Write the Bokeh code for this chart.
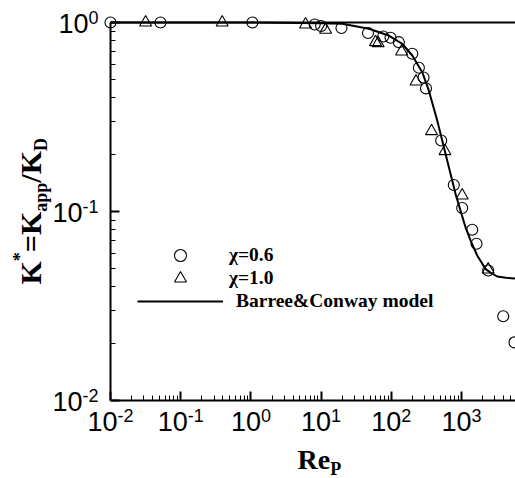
import math
from bokeh.plotting import figure
from bokeh.models import (Label, Legend, LegendItem, FixedTicker, Range1d, LogAxis,
                          CustomJSTickFormatter)
from bokeh.embed import file_html
from bokeh.resources import INLINE

# ---------------- data ----------------
re_chi06 = [0.01, 0.0515, 1.05, 8.1, 10.0, 19.5, 46.6, 76.7, 97.5, 128, 199, 247,
            288, 312, 514, 777, 1023, 1420, 1636, 2400, 3925, 5690]
k_chi06 = [1.0, 1.0, 1.0, 0.976, 0.958, 0.935, 0.88, 0.843, 0.83, 0.787, 0.683, 0.576,
           0.512, 0.448, 0.2375, 0.138, 0.1044, 0.080, 0.0675, 0.0487, 0.0279, 0.0203]

re_chi10 = [0.0316, 0.39, 6.0, 11.6, 59.6, 65, 140, 225, 374, 582, 1023, 2400]
k_chi10 = [1.0, 1.0, 0.976, 0.915, 0.787, 0.777, 0.702, 0.487, 0.266, 0.2085, 0.1215, 0.0493]

re_model = [0.01, 0.1, 1, 5, 10, 20, 47.9, 92, 143, 199, 276, 342, 451, 592, 822,
            1140, 1344, 1674, 2198, 2588, 3228, 4300, 5875]
k_model = [1.0, 1.0, 0.999, 0.995, 0.99, 0.984, 0.926, 0.853, 0.772, 0.669, 0.546, 0.437,
           0.303, 0.2019, 0.124, 0.0826, 0.0703, 0.0585, 0.0497, 0.0475, 0.0453, 0.0446, 0.0442]

x_major = [1e-2, 1e-1, 1e0, 1e1, 1e2, 1e3]
x_exps = ["-2", "-1", "0", "1", "2", "3"]
y_major = [1e-2, 1e-1, 1e0]
y_exps = ["-2", "-1", "0"]

legend_labels = ["χ=0.6", "χ=1.0", "Barree&Conway model"]

# ---------------- layout ----------------
W, H = 515, 478
AX_X, AX_TOP, AX_BOT = 110, 22, 400     # canvas pixels of the axes corner / top
PX_DEC_X = 70.2
PX_DEC_Y = 189.0
x_start = 10 ** (-2 - AX_X / PX_DEC_X)
x_end = 10 ** (-2 + (W - AX_X) / PX_DEC_X)
y_end = 10 ** (AX_TOP / PX_DEC_Y)
y_start = 10 ** (-2 - (H - AX_BOT) / PX_DEC_Y)

p = figure(width=W, height=H, x_axis_type="log", y_axis_type="log",
           x_range=Range1d(x_start, x_end), y_range=Range1d(y_start, y_end),
           output_backend="svg", toolbar_location=None,
           min_border_left=0, min_border_right=0, min_border_top=0, min_border_bottom=0)
p.outline_line_color = None
p.grid.visible = False
p.background_fill_color = "white"
p.border_fill_color = "white"

x_minor = [m * 10 ** e for e in range(-2, 4) for m in range(2, 10)]
y_minor = [m * 10 ** e for e in range(-2, 0) for m in range(2, 10)]

blank = CustomJSTickFormatter(code="return ''")


def style_axis(ax, major, minor):
    ax.ticker = FixedTicker(ticks=major, minor_ticks=minor)
    ax.formatter = blank
    ax.major_label_text_font_size = "0px"
    ax.major_label_standoff = 0
    ax.axis_line_width = 2
    ax.axis_line_color = "black"
    ax.major_tick_in = 9
    ax.major_tick_out = 0
    ax.minor_tick_in = 5
    ax.minor_tick_out = 0
    ax.major_tick_line_width = 2
    ax.minor_tick_line_width = 1
    ax.major_tick_line_color = "black"
    ax.minor_tick_line_color = "black"


style_axis(p.xaxis[0], x_major, x_minor)
style_axis(p.yaxis[0], y_major, y_minor)
p.xaxis[0].bounds = (0.01, x_end)
p.xaxis[0].fixed_location = 0.01
p.yaxis[0].bounds = (0.01, 1.0)
p.yaxis[0].fixed_location = 0.01

# top frame line at K* = 1 (an untitled, tick-less axis)
top = LogAxis(fixed_location=1.0, bounds=(0.01, x_end), formatter=blank,
              major_label_text_font_size="0px", major_label_standoff=0,
              major_tick_line_color=None, minor_tick_line_color=None,
              axis_line_width=2, axis_line_color="black")
p.add_layout(top, "above")

rm = p.line(re_model, k_model, line_color="black", line_width=2)
r06 = p.scatter(re_chi06, k_chi06, marker="circle", size=11, fill_color=None,
                line_color="black", line_width=1.1)
r10 = p.scatter(re_chi10, k_chi10, marker="triangle", size=12, fill_color=None,
                line_color="black", line_width=1.1)

# one single-entry legend per row so that the marker keys can be drawn larger
legend_rows = [(r06, 255, 6), (r10, 277.5, 6), (rm, 301, 13)]   # renderer, row centre, gap
for (rend, cy, gap), lab in zip(legend_rows, legend_labels):
    lg = Legend(items=[LegendItem(label=lab, renderers=[rend])],
                location=(137, H - cy - 15), orientation="vertical",
                glyph_width=86, glyph_height=30, label_height=30, spacing=0,
                padding=0, margin=0, label_standoff=gap,
                border_line_color=None, background_fill_alpha=0,
                label_text_font="Liberation Serif", label_text_font_style="bold",
                label_text_font_size="19.5px", label_text_color="black")
    p.add_layout(lg)

# ---------------- tick labels: 10 with superscript exponent ----------------
SANS = "Liberation Sans"
F_BIG, F_SUP = 27, 18
CW = {"0": .556, "1": .556, "2": .556, "3": .556, "-": .333}


def tw(s, f):
    return sum(CW[c] for c in s) * f


w10 = tw("10", F_BIG)
for v, e in zip(x_major, x_exps):
    ws = tw(e, F_SUP)
    off = (w10 - ws) / 2
    p.add_layout(Label(x=v, y=H - 421, x_units="data", y_units="screen", text="10",
                       x_offset=off, text_align="right", text_baseline="middle",
                       text_font=SANS, text_font_size=f"{F_BIG}px", text_color="black"))
    p.add_layout(Label(x=v, y=H - 414.5, x_units="data", y_units="screen", text=e,
                       x_offset=off, text_align="left", text_baseline="middle",
                       text_font=SANS, text_font_size=f"{F_SUP}px", text_color="black"))

for v, e in zip(y_major, y_exps):
    ws = tw(e, F_SUP)
    p.add_layout(Label(x=98, y=v, x_units="screen", y_units="data", text=e,
                       y_offset=5, text_align="right", text_baseline="middle",
                       text_font=SANS, text_font_size=f"{F_SUP}px", text_color="black"))
    p.add_layout(Label(x=98 - ws, y=v, x_units="screen", y_units="data", text="10",
                       y_offset=-1, text_align="right", text_baseline="middle",
                       text_font=SANS, text_font_size=f"{F_BIG}px", text_color="black"))

# ---------------- axis titles ----------------
SERIF = "Liberation Serif"
TW = {"K": .778, "*": .5, "=": .570, "/": .278, "a": .5, "p": .556, "D": .722,
      "R": .722, "e": .444, "P": .611}


def sw(s, f):
    return sum(TW[c] for c in s) * f


# y title: K* = K_app / K_D  (rotated, reading upward); x = centre line of each piece
F_T, F_S = 30, 18
pieces = [("K", F_T, 30), ("*", F_S, 19), ("=", F_T, 30), ("K", F_T, 30),
          ("app", F_S, 40), ("/", F_T, 30), ("K", F_T, 30), ("D", F_S, 40)]
ypos = H - 284
for txt, f, xc in pieces:
    p.add_layout(Label(x=xc, y=ypos, x_units="screen", y_units="screen", text=txt,
                       angle=math.pi / 2, text_align="left", text_baseline="middle",
                       text_font=SERIF, text_font_style="bold", text_font_size=f"{f}px",
                       text_color="black"))
    ypos += sw(txt, f)

# x title: Re_P
F_X = 28
p.add_layout(Label(x=297, y=H - 459, x_units="screen", y_units="screen", text="Re",
                   text_align="left", text_baseline="middle", text_font=SERIF,
                   text_font_style="bold", text_font_size=f"{F_X}px", text_color="black"))
p.add_layout(Label(x=297 + sw("Re", F_X), y=H - 468, x_units="screen", y_units="screen",
                   text="P", text_align="left", text_baseline="middle", text_font=SERIF,
                   text_font_style="bold", text_font_size=f"{F_S}px", text_color="black"))

open("out.html", "w").write(file_html(p, INLINE))
